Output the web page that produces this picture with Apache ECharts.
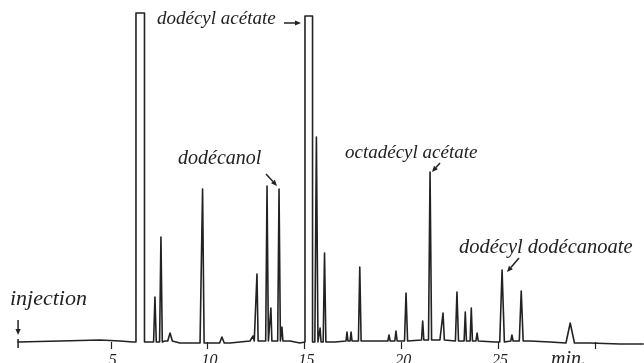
<!DOCTYPE html>
<html>
<head>
<meta charset="utf-8">
<script src="https://cdn.jsdelivr.net/npm/echarts@6/dist/echarts.min.js"></script>
<style>
  html, body { margin: 0; padding: 0; background: #ffffff; }
  #chart { width: 644px; height: 363px; }
</style>
</head>
<body>
<div id="chart"></div>
<script>
// ---- data (time in min, signal in mm above baseline) ----
const tickValues = [5, 10, 15, 20, 25, 30];
const tickLabels = ['5', '10', '15', '20', '25'];

const peakTimes      = [7.28, 7.59, 8.06, 9.74, 10.74, 12.35, 12.55, 13.07, 13.27, 13.69, 13.84,
                        15.62, 15.81, 16.04, 17.20, 17.41, 17.86, 19.37, 19.73, 20.25, 21.11,
                        21.49, 22.16, 22.88, 23.31, 23.62, 23.92, 25.21, 25.72, 26.20, 28.73];
const peakHeights    = [45, 105, 9, 153, 5, 6, 68, 156, 34, 153, 15,
                        205, 14, 89, 10, 10, 75, 7, 11, 49, 21,
                        170, 29, 50, 30, 34, 9, 72, 7, 51, 19];
const peakHalfWidths = [0.07, 0.07, 0.12, 0.08, 0.12, 0.06, 0.06, 0.07, 0.05, 0.07, 0.05,
                        0.08, 0.05, 0.07, 0.05, 0.05, 0.07, 0.06, 0.06, 0.08, 0.06,
                        0.08, 0.07, 0.08, 0.06, 0.06, 0.06, 0.12, 0.06, 0.10, 0.22];
const peakBases      = [0, 0, 1, -1, -1, 1, 1, 1, 1, 1, 1,
                        0, 0, 0, 1, 1, 1, 1, 1, 1, 2,
                        2, 2, 1, 1, 1, 1, 0, 1, 1, -1];

// off-scale peaks (pen hit the top of the chart paper)
const clippedStart = [6.30, 15.03];
const clippedEnd   = [6.74, 15.42];
const clippedTop   = [329, 326];

const baselineTimes  = [0.21, 2.38, 4.44, 5.48, 6.15, 7.02, 7.80, 8.57, 9.61, 10.38, 11.16, 12.19,
                        14.26, 14.77, 16.58, 18.90, 19.94, 22.00, 24.07, 24.85, 26.65, 27.69,
                        29.75, 31.30, 32.50];
const baselineLevels = [0, 1, 2, 1, 0, 0, 1, -1, -1, -1, -1, 1,
                        1, -1, 0, 1, 1, 2, 1, 0, 1, 0,
                        -1, -2, -2];

// ---- build the trace ----
const spans = [];
const pts = [];
peakTimes.forEach((t, i) => {
  const hw = peakHalfWidths[i];
  pts.push([t - hw, peakBases[i]], [t, peakHeights[i]], [t + hw, peakBases[i]]);
  spans.push([t - hw, t + hw]);
});
clippedStart.forEach((s, i) => {
  const e = clippedEnd[i];
  pts.push([s, 0], [s, clippedTop[i]], [e, clippedTop[i]], [e, 0]);
  spans.push([s, e]);
});
baselineTimes.forEach((t, i) => {
  if (!spans.some(sp => t >= sp[0] && t <= sp[1])) pts.push([t, baselineLevels[i]]);
});
pts.sort((a, b) => a[0] - b[0]);

const INK = '#222222';
const FONT = '"Liberation Serif", "DejaVu Serif", serif';

const chart = echarts.init(document.getElementById('chart'), null, { renderer: 'canvas' });
chart.setOption({
  backgroundColor: '#ffffff',
  animation: false,
  grid: { left: 14, top: 12, width: 629.2, height: 340, containLabel: false, outerBoundsMode: 'none' },
  xAxis: {
    type: 'value', min: 0, max: 32.5, interval: 5,
    axisLine: { show: false, onZero: true },
    splitLine: { show: false },
    axisTick: { show: true, length: 7, customValues: tickValues, lineStyle: { color: INK, width: 1.2 } },
    axisLabel: { show: false }
  },
  yAxis: { type: 'value', min: -10, max: 330, show: false, splitLine: { show: false } },
  series: [{
    type: 'line', data: pts, showSymbol: false, symbol: 'none', clip: false,
    lineStyle: { color: INK, width: 1.6, join: 'round', cap: 'round' }
  }]
});

// ---- hand-written annotations ----
function arrow(x1, y1, x2, y2) {
  const a = Math.atan2(y2 - y1, x2 - x1), L = 6, W = 2.6;
  const bx = x2 - L * Math.cos(a), by = y2 - L * Math.sin(a);
  return {
    type: 'group', children: [
      { type: 'line', shape: { x1, y1, x2: bx, y2: by }, style: { stroke: INK, lineWidth: 1.5 } },
      { type: 'polygon', shape: { points: [[x2, y2],
          [bx - W * Math.sin(a), by + W * Math.cos(a)],
          [bx + W * Math.sin(a), by - W * Math.cos(a)]] }, style: { fill: INK } }
    ]
  };
}
function label(text, x, y, size, align) {
  return { type: 'text', x, y, style: { text, fill: INK, font: 'italic ' + size + 'px ' + FONT,
           textVerticalAlign: 'top', textAlign: align || 'left' } };
}
const inj = chart.convertToPixel({ gridIndex: 0 }, [baselineTimes[0], 0]);
const tickTexts = tickLabels.map(s => {
  const p = chart.convertToPixel({ gridIndex: 0 }, [Number(s), 0]);
  return label(s, p[0] + 2, p[1] + 11, 16, 'center');
});
chart.setOption({
  graphic: tickTexts.concat([
    label('dodécyl acétate', 157, 9, 19),
    arrow(284, 23, 301, 23),
    label('dodécanol', 178, 149, 20),
    arrow(266, 174, 277, 186),
    label('octadécyl acétate', 345, 143, 19),
    arrow(440, 163, 432, 172),
    label('dodécyl dodécanoate', 459, 238, 20.5),
    arrow(519, 258, 507, 272),
    label('injection', 10, 288, 22),
    arrow(inj[0], 320, inj[0], 335),
    { type: 'line', shape: { x1: inj[0], y1: inj[1] - 3, x2: inj[0], y2: inj[1] + 6 }, style: { stroke: INK, lineWidth: 1.5 } },
    label('min.', 551, 350, 20)
  ])
});
</script>
</body>
</html>
